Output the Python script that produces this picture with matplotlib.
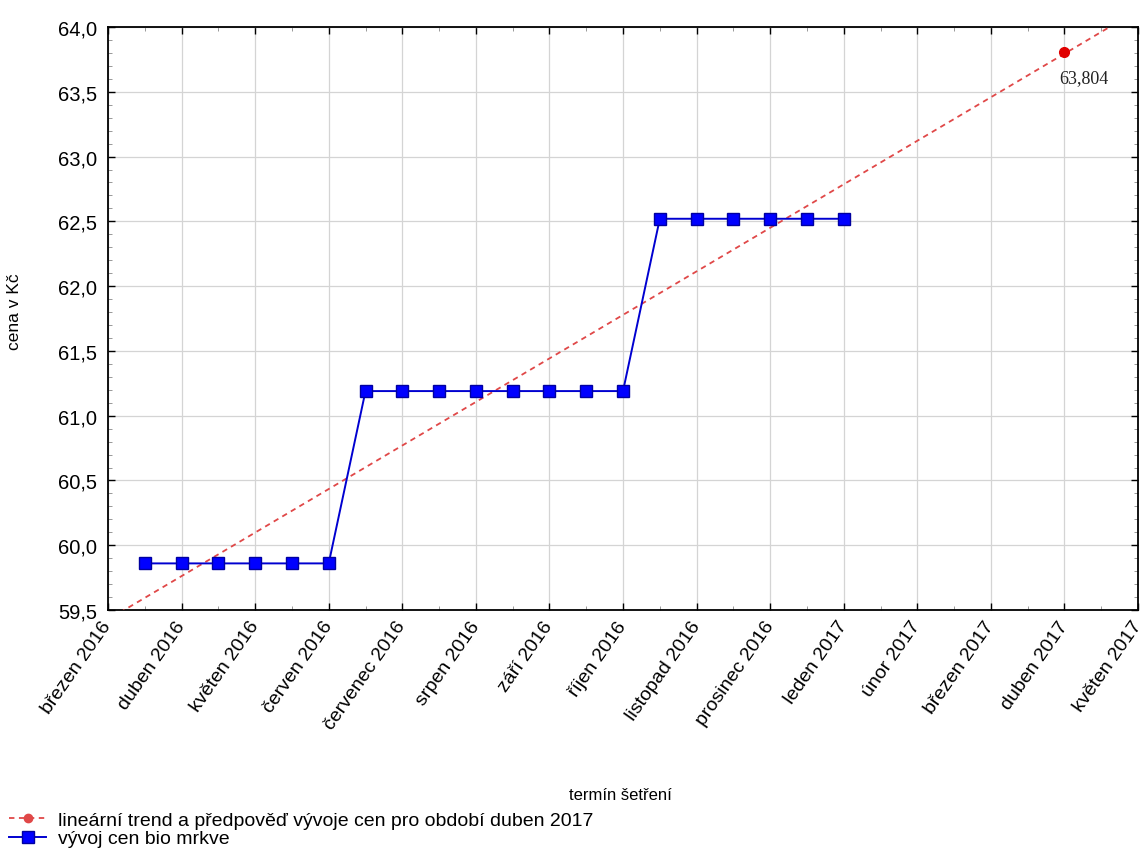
import numpy as np
import matplotlib.pyplot as plt
from matplotlib.ticker import MultipleLocator, FuncFormatter

plt.rcParams['font.family'] = ['Liberation Sans', 'DejaVu Sans']

# months from brezen 2016 (0) to kveten 2017 (14)
month_labels = ["březen 2016", "duben 2016", "květen 2016", "červen 2016",
                "červenec 2016", "srpen 2016", "září 2016", "říjen 2016",
                "listopad 2016", "prosinec 2016", "leden 2017", "únor 2017",
                "březen 2017", "duben 2017", "květen 2017"]

# biweekly survey dates (in months since brezen 2016) and prices
t_obs = [0.5, 1.0, 1.5, 2.0, 2.5, 3.0,
         3.5, 4.0, 4.5, 5.0, 5.5, 6.0, 6.5, 7.0,
         7.5, 8.0, 8.5, 9.0, 9.5, 10.0]
price = [59.86, 59.86, 59.86, 59.86, 59.86, 59.86,
         61.19, 61.19, 61.19, 61.19, 61.19, 61.19, 61.19, 61.19,
         62.52, 62.52, 62.52, 62.52, 62.52, 62.52]

t_forecast = 13.0
forecast = 63.804

fig = plt.figure(figsize=(11.44, 8.54), dpi=100)
ax = fig.add_axes([0.0944, 0.2845, 0.9004, 0.6827])

# linear trend through the observations
k, q = np.polyfit(t_obs, price, 1)
tt = np.array([-1.0, 15.0])
trend, = ax.plot(tt, k * tt + q, color='#e04848', ls=(0, (3, 2.5)), lw=1.3,
                 marker='o', markevery=[], zorder=3)
ax.plot([t_forecast], [forecast], 'o', color='#e00000', ms=7, zorder=5)
ax.annotate("63,804", (t_forecast, forecast), xytext=(-4, -12), textcoords='offset points',
            ha='left', va='top', fontsize=13, family='Liberation Serif', color='#222222')

obs, = ax.plot(t_obs, price, color='#0000d0', lw=1.4, marker='s', ms=8.5,
               mfc='#0000ff', mec='#0000a0', zorder=4)

ax.set_xlim(0, 14)
ax.set_ylim(59.5, 64.0)
ax.set_xticks(range(len(month_labels)))
ax.set_xticklabels(month_labels, rotation=55, ha='right', va='center',
                   rotation_mode='anchor', fontsize=14)
ax.xaxis.set_minor_locator(MultipleLocator(0.5))
ax.yaxis.set_major_locator(MultipleLocator(0.5))
ax.yaxis.set_minor_locator(MultipleLocator(0.1))
ax.yaxis.set_major_formatter(FuncFormatter(lambda v, p: "{:.1f}".format(v).replace('.', ',')))
ax.tick_params(axis='y', labelsize=14.5, pad=8)
ax.tick_params(axis='x', pad=9)
ax.tick_params(which='both', direction='in', top=True, right=True)
ax.tick_params(which='major', length=5, width=1)
ax.tick_params(which='minor', length=3, width=0.6, color='#888888')
ax.grid(True, which='major', color='#d4d4d4', lw=0.9)
ax.set_axisbelow(True)
for s in ax.spines.values():
    s.set_linewidth(1.3)

fig.text(0.013, 0.635, "cena v Kč", rotation=90, ha='center', va='center', fontsize=12.5)
fig.text(0.542, 0.068, "termín šetření", ha='center', va='center', fontsize=12)

fig.legend([trend, obs],
           ["lineární trend a předpověď vývoje cen pro období duben 2017", "vývoj cen bio mrkve"],
           loc='upper left', bbox_to_anchor=(0.008, 0.049), frameon=False, fontsize=14,
           handlelength=1.9, handletextpad=0.6, labelspacing=0.05, borderaxespad=0.0,
           borderpad=0.0)
trend.set_markevery(None)

fig.savefig("out.png", dpi=100)
